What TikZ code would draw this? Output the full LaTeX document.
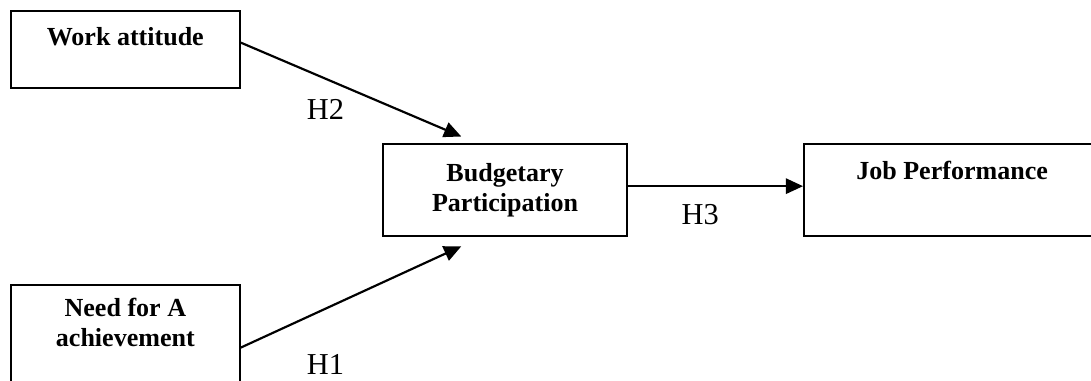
\documentclass[tikz,border=0pt]{standalone}
\usepackage{fontspec}
\setmainfont{Liberation Serif}
\usetikzlibrary{positioning, arrows.meta, calc}

\begin{document}
\begin{tikzpicture}[
    box/.style={
      rectangle, draw=black, line width=0.8pt, inner sep=0pt,
      font=\fontsize{12}{13.5}\selectfont\bfseries, align=center,
    },
    boxtext/.style={font=\fontsize{12}{13.8}\selectfont\bfseries, align=center, inner sep=0pt},
    hyp/.style={font=\fontsize{14}{17}\selectfont, inner sep=0pt},
    link/.style={-{Triangle[length=2.8mm, width=2.5mm]}, line width=1pt},
]

% Page frame (cuts the boxes at the border)
\clip (0,0) rectangle (17.67,-6.17);

% Boxes
\node[box, minimum width=3.71cm, minimum height=1.25cm] (work)   at (2.03,-0.80)  {};
\node[box, minimum width=3.71cm, minimum height=1.88cm] (need)   at (2.03,-5.56)  {};
\node[box, minimum width=3.95cm, minimum height=1.49cm] (budget) at (8.18,-3.08)  {Budgetary\\Participation};
\node[box, minimum width=4.80cm, minimum height=1.49cm] (job)    at (15.42,-3.08) {};

% Box titles sitting near the top edge
\node[boxtext, below=0.27cm of work.north] (worktxt) {Work attitude};
\node[boxtext, below=0.21cm of need.north] (needtxt) {Need for A\\achievement};
\node[boxtext, below=0.29cm of job.north]  (jobtxt)  {Job Performance};

% Hypothesis paths
\draw[link] ($(work.east)+(0,0.11)$)   -- ($(budget.north west)+(1.28,0.11)$);
\draw[link] ($(need.east)+(0,-0.07)$)  -- ($(budget.south west)+(1.28,-0.15)$);
\draw[link] ($(budget.east)+(0,0.065)$) -- ($(job.west)+(0,0.065)$);

% Labels
\node[hyp] (h2) at (5.27,-1.78)  {H2};
\node[hyp] (h1) at (5.27,-5.91)  {H1};
\node[hyp] (h3) at (11.34,-3.48) {H3};
\end{tikzpicture}
\end{document}
